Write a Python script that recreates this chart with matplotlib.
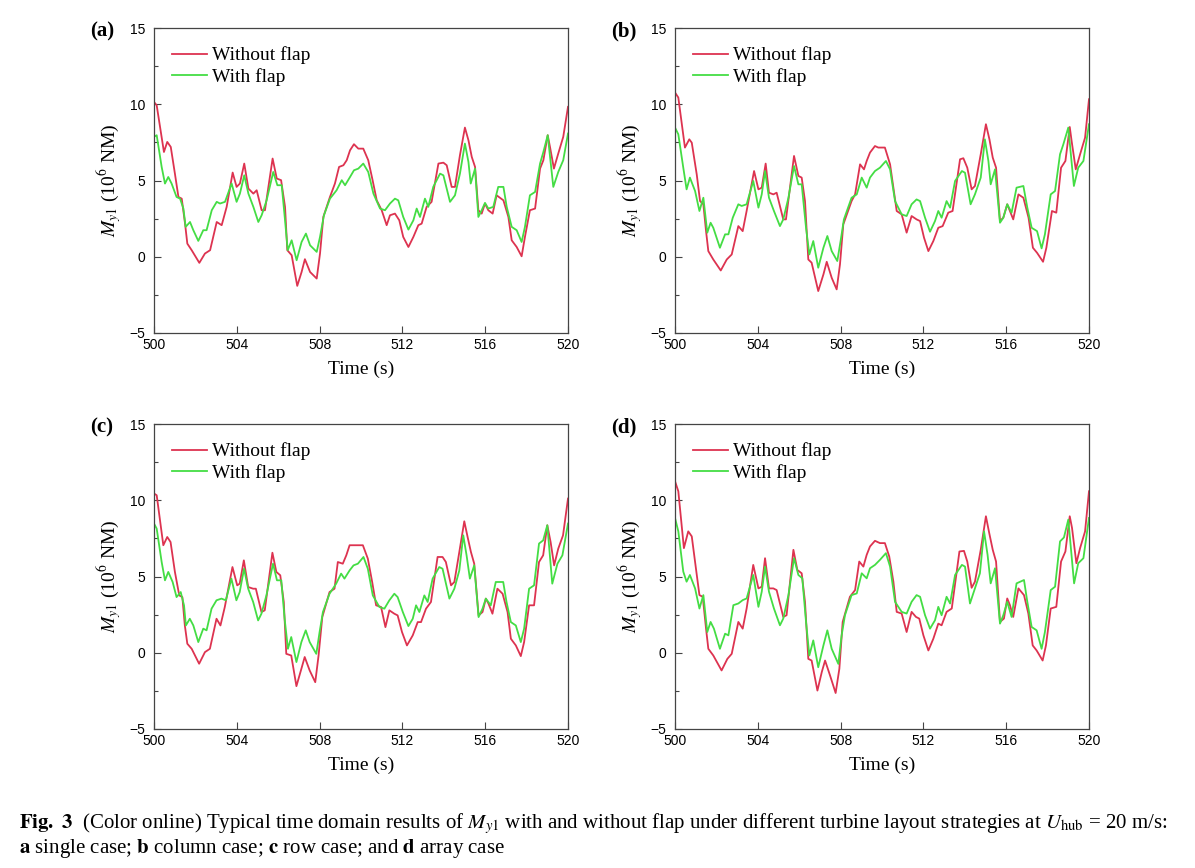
import matplotlib
matplotlib.use("Agg")
import matplotlib.pyplot as plt
from matplotlib.ticker import MultipleLocator

# ---- data (time in s, M_y1 in 10^6 NM) ----
t_a_wo = [500.00, 500.13, 500.48, 500.64, 500.81, 501.01, 501.18, 501.34, 501.50, 501.61, 501.82, 502.19, 502.46, 502.71, 503.03, 503.27, 503.51, 503.80, 503.99, 504.15, 504.36, 504.56, 504.80, 504.96, 505.20, 505.36, 505.73, 505.93, 506.14, 506.33, 506.44, 506.65, 506.92, 507.13, 507.29, 507.54, 507.86, 508.02, 508.18, 508.50, 508.74, 508.94, 509.15, 509.31, 509.47, 509.66, 509.87, 510.11, 510.35, 510.56, 510.76, 511.00, 511.24, 511.40, 511.64, 511.85, 512.04, 512.29, 512.53, 512.77, 512.93, 513.17, 513.41, 513.74, 513.98, 514.14, 514.38, 514.54, 514.78, 515.02, 515.19, 515.35, 515.51, 515.67, 515.83, 515.99, 516.15, 516.36, 516.55, 516.88, 517.12, 517.28, 517.52, 517.76, 517.92, 518.16, 518.41, 518.65, 518.81, 519.02, 519.13, 519.32, 519.53, 519.77, 520.00]
m_a_wo = [10.15, 9.93, 6.87, 7.53, 7.20, 5.45, 3.92, 3.81, 2.17, 0.86, 0.43, -0.40, 0.21, 0.43, 2.28, 2.07, 3.27, 5.52, 4.58, 4.80, 6.11, 4.47, 4.14, 4.36, 3.05, 3.05, 6.44, 5.13, 5.02, 3.27, 0.43, 0.10, -1.91, -1.00, -0.16, -1.00, -1.43, 0.21, 2.61, 3.92, 4.80, 5.89, 6.00, 6.33, 6.98, 7.38, 7.09, 7.09, 6.33, 5.02, 3.70, 3.05, 2.07, 2.72, 2.83, 2.39, 1.30, 0.64, 1.30, 2.07, 2.17, 3.27, 3.60, 6.11, 6.17, 6.00, 4.58, 4.58, 6.66, 8.47, 7.64, 6.55, 5.89, 3.05, 2.83, 3.49, 3.05, 2.83, 4.03, 3.70, 2.61, 1.08, 0.64, 0.03, 1.30, 3.05, 3.16, 5.78, 6.33, 7.97, 7.20, 5.78, 6.77, 7.86, 9.83]
t_a_w = [500.00, 500.13, 500.37, 500.53, 500.69, 500.85, 501.09, 501.26, 501.42, 501.53, 501.74, 501.90, 502.14, 502.38, 502.54, 502.79, 503.03, 503.19, 503.43, 503.75, 503.99, 504.15, 504.36, 504.56, 504.80, 505.04, 505.20, 505.44, 505.76, 505.96, 506.17, 506.33, 506.46, 506.65, 506.89, 507.13, 507.34, 507.54, 507.86, 508.02, 508.21, 508.50, 508.82, 509.07, 509.23, 509.47, 509.66, 509.87, 510.11, 510.35, 510.60, 510.92, 511.16, 511.40, 511.64, 511.80, 512.04, 512.29, 512.53, 512.69, 512.85, 513.09, 513.25, 513.49, 513.82, 513.98, 514.30, 514.54, 514.78, 515.02, 515.19, 515.30, 515.51, 515.67, 515.83, 515.99, 516.15, 516.39, 516.63, 516.88, 517.04, 517.28, 517.52, 517.76, 517.92, 518.16, 518.41, 518.65, 518.81, 519.02, 519.29, 519.53, 519.77, 520.00]
m_a_w = [7.86, 7.97, 5.89, 4.80, 5.23, 4.80, 3.92, 3.81, 3.16, 1.96, 2.28, 1.74, 1.04, 1.74, 1.74, 3.05, 3.60, 3.49, 3.60, 4.80, 3.60, 4.14, 5.34, 4.14, 3.27, 2.28, 2.72, 3.70, 5.56, 4.69, 4.69, 2.39, 0.43, 1.08, -0.23, 0.97, 1.52, 0.75, 0.32, 1.30, 2.72, 3.81, 4.36, 5.02, 4.69, 5.23, 5.67, 5.78, 6.11, 5.56, 4.14, 3.16, 3.05, 3.49, 3.81, 3.70, 2.61, 1.78, 2.39, 3.16, 2.61, 3.81, 3.27, 4.58, 5.45, 5.34, 3.60, 4.03, 5.45, 7.42, 6.22, 4.80, 5.78, 2.61, 3.05, 3.53, 3.16, 3.27, 4.58, 4.58, 3.27, 1.96, 1.74, 0.97, 1.96, 4.03, 4.25, 6.11, 6.87, 7.97, 4.58, 5.56, 6.33, 8.08]

t_b_wo = [500.00, 500.16, 500.48, 500.69, 500.81, 501.05, 501.21, 501.37, 501.50, 501.61, 501.85, 502.21, 502.50, 502.74, 503.06, 503.27, 503.46, 503.82, 504.03, 504.19, 504.38, 504.54, 504.75, 504.91, 505.23, 505.36, 505.75, 505.96, 506.12, 506.28, 506.44, 506.60, 506.92, 507.17, 507.33, 507.57, 507.81, 507.97, 508.13, 508.53, 508.70, 508.94, 509.13, 509.26, 509.42, 509.66, 509.82, 510.14, 510.39, 510.55, 510.71, 510.95, 511.19, 511.43, 511.67, 511.84, 512.03, 512.24, 512.48, 512.72, 512.93, 513.20, 513.41, 513.77, 513.93, 514.12, 514.33, 514.49, 514.77, 515.02, 515.19, 515.35, 515.51, 515.70, 515.86, 516.05, 516.18, 516.34, 516.59, 516.83, 517.08, 517.29, 517.49, 517.78, 517.94, 518.21, 518.42, 518.65, 518.86, 519.07, 519.16, 519.36, 519.57, 519.81, 520.00]
m_b_wo = [10.77, 10.44, 7.16, 7.70, 7.48, 5.40, 3.65, 3.44, 1.68, 0.37, -0.18, -0.90, -0.18, 0.15, 2.01, 1.68, 3.00, 5.62, 4.42, 4.53, 6.11, 4.20, 4.09, 4.20, 2.45, 2.45, 6.61, 5.30, 5.19, 3.65, -0.18, -0.39, -2.25, -1.16, -0.33, -1.38, -2.14, -0.50, 2.12, 3.65, 4.09, 6.06, 5.73, 6.28, 6.83, 7.26, 7.16, 7.16, 6.06, 4.53, 3.00, 2.78, 1.58, 2.67, 2.45, 2.34, 1.25, 0.37, 1.03, 1.90, 2.01, 2.89, 3.00, 6.39, 6.46, 5.84, 4.42, 4.64, 6.72, 8.69, 7.70, 6.50, 5.84, 2.34, 2.56, 3.44, 3.00, 2.45, 4.09, 3.87, 2.56, 0.59, 0.26, -0.33, 0.59, 3.00, 2.89, 5.84, 6.28, 8.51, 7.59, 5.73, 6.72, 7.81, 10.33]
t_b_w = [500.00, 500.16, 500.40, 500.56, 500.72, 500.97, 501.18, 501.37, 501.56, 501.72, 501.85, 502.17, 502.42, 502.58, 502.79, 503.06, 503.22, 503.46, 503.78, 504.03, 504.19, 504.35, 504.54, 504.78, 505.07, 505.23, 505.48, 505.75, 505.96, 506.12, 506.33, 506.49, 506.68, 506.92, 507.17, 507.36, 507.57, 507.84, 508.00, 508.16, 508.53, 508.78, 509.02, 509.26, 509.42, 509.66, 509.90, 510.19, 510.39, 510.63, 510.95, 511.19, 511.43, 511.67, 511.84, 512.08, 512.32, 512.56, 512.72, 512.88, 513.12, 513.29, 513.53, 513.86, 514.01, 514.28, 514.49, 514.77, 514.97, 515.14, 515.25, 515.46, 515.70, 515.86, 516.05, 516.26, 516.50, 516.83, 517.02, 517.23, 517.49, 517.71, 517.87, 518.15, 518.36, 518.60, 518.76, 519.00, 519.27, 519.48, 519.73, 520.00]
m_b_w = [8.47, 8.03, 5.84, 4.42, 5.19, 4.31, 3.00, 3.87, 1.58, 2.23, 1.90, 0.59, 1.47, 1.47, 2.56, 3.44, 3.33, 3.44, 4.97, 3.22, 4.09, 5.62, 3.87, 3.00, 2.01, 2.45, 3.87, 5.95, 4.75, 4.75, 1.90, 0.15, 1.03, -0.72, 0.59, 1.36, 0.37, -0.28, 1.03, 2.45, 3.87, 4.09, 5.19, 4.53, 5.19, 5.62, 5.84, 6.28, 5.73, 3.65, 2.78, 2.67, 3.44, 3.76, 3.65, 2.56, 1.64, 2.34, 3.00, 2.56, 3.65, 3.22, 4.97, 5.62, 5.51, 3.44, 4.09, 5.19, 7.70, 6.28, 4.75, 5.73, 2.23, 2.56, 3.44, 2.89, 4.53, 4.64, 3.22, 1.90, 1.68, 0.55, 1.47, 4.09, 4.31, 6.72, 7.37, 8.47, 4.64, 5.84, 6.28, 8.69]

t_c_wo = [500.00, 500.13, 500.45, 500.64, 500.80, 501.01, 501.22, 501.37, 501.49, 501.61, 501.82, 502.18, 502.46, 502.70, 503.02, 503.21, 503.42, 503.79, 504.02, 504.14, 504.34, 504.55, 504.79, 504.92, 505.19, 505.35, 505.72, 505.91, 506.10, 506.27, 506.39, 506.63, 506.88, 507.12, 507.28, 507.52, 507.79, 507.95, 508.13, 508.48, 508.72, 508.88, 509.12, 509.29, 509.45, 509.64, 510.09, 510.33, 510.54, 510.73, 510.97, 511.18, 511.37, 511.61, 511.77, 511.98, 512.22, 512.50, 512.74, 512.90, 513.14, 513.38, 513.70, 513.94, 514.10, 514.35, 514.51, 514.75, 514.99, 515.15, 515.31, 515.47, 515.68, 515.87, 516.03, 516.16, 516.35, 516.59, 516.84, 517.08, 517.24, 517.48, 517.72, 517.88, 518.12, 518.36, 518.60, 518.80, 519.00, 519.16, 519.33, 519.53, 519.76, 520.00]
m_c_wo = [10.44, 10.33, 7.05, 7.59, 7.26, 5.30, 3.76, 3.65, 1.79, 0.59, 0.26, -0.72, 0.04, 0.26, 2.23, 1.79, 3.00, 5.62, 4.42, 4.53, 6.06, 4.31, 4.20, 4.20, 2.67, 2.78, 6.56, 5.30, 5.08, 3.33, -0.07, -0.18, -2.19, -1.05, -0.28, -1.16, -1.93, -0.18, 2.34, 3.98, 4.20, 5.95, 5.84, 6.39, 7.05, 7.05, 7.05, 6.17, 4.64, 3.11, 3.00, 1.68, 2.78, 2.56, 2.45, 1.36, 0.48, 1.14, 2.01, 2.01, 2.89, 3.33, 6.28, 6.28, 5.95, 4.42, 4.64, 6.61, 8.62, 7.59, 6.61, 5.84, 2.45, 2.67, 3.55, 3.22, 2.56, 4.20, 3.87, 2.67, 0.92, 0.48, -0.22, 0.70, 3.11, 3.11, 5.95, 6.39, 8.36, 7.26, 5.73, 6.83, 7.70, 10.11]
t_c_w = [500.00, 500.13, 500.37, 500.53, 500.69, 500.90, 501.09, 501.29, 501.45, 501.54, 501.73, 501.90, 502.14, 502.38, 502.54, 502.78, 503.02, 503.26, 503.47, 503.74, 503.98, 504.14, 504.35, 504.55, 504.79, 505.03, 505.19, 505.43, 505.75, 505.94, 506.15, 506.31, 506.47, 506.63, 506.88, 507.12, 507.33, 507.52, 507.84, 508.00, 508.16, 508.48, 508.80, 509.04, 509.20, 509.45, 509.64, 509.85, 510.12, 510.33, 510.57, 510.89, 511.13, 511.37, 511.61, 511.77, 512.02, 512.29, 512.50, 512.66, 512.82, 513.06, 513.22, 513.46, 513.78, 513.94, 514.27, 514.51, 514.75, 514.94, 515.10, 515.26, 515.47, 515.68, 515.87, 516.03, 516.27, 516.51, 516.87, 517.03, 517.24, 517.48, 517.72, 517.88, 518.12, 518.36, 518.60, 518.80, 519.00, 519.24, 519.49, 519.73, 520.00]
m_c_w = [8.47, 8.14, 5.95, 4.75, 5.30, 4.64, 3.65, 3.98, 3.11, 1.79, 2.23, 1.79, 0.70, 1.58, 1.47, 2.89, 3.44, 3.55, 3.44, 4.86, 3.44, 3.98, 5.51, 4.20, 3.33, 2.12, 2.56, 3.76, 5.84, 4.75, 4.75, 2.23, 0.26, 1.03, -0.61, 0.70, 1.47, 0.70, -0.07, 1.36, 2.67, 3.87, 4.53, 5.19, 4.86, 5.40, 5.73, 5.84, 6.28, 5.51, 3.76, 3.00, 2.89, 3.44, 3.87, 3.65, 2.67, 1.75, 2.23, 3.11, 2.67, 3.76, 3.33, 4.86, 5.62, 5.51, 3.55, 4.20, 5.40, 7.70, 6.39, 4.86, 5.73, 2.34, 2.89, 3.55, 3.11, 4.64, 4.64, 3.33, 2.01, 1.79, 0.70, 1.58, 4.20, 4.42, 7.16, 7.37, 8.36, 4.53, 5.84, 6.39, 8.47]

t_d_wo = [500.00, 500.16, 500.43, 500.64, 500.81, 501.01, 501.18, 501.34, 501.50, 501.61, 501.85, 502.25, 502.53, 502.74, 503.06, 503.27, 503.46, 503.78, 504.03, 504.19, 504.35, 504.54, 504.75, 504.91, 505.23, 505.39, 505.72, 505.91, 506.12, 506.28, 506.44, 506.60, 506.88, 507.09, 507.25, 507.49, 507.76, 507.94, 508.10, 508.45, 508.70, 508.90, 509.10, 509.26, 509.42, 509.66, 509.90, 510.14, 510.35, 510.55, 510.71, 510.95, 511.19, 511.43, 511.64, 511.80, 512.00, 512.24, 512.48, 512.72, 512.88, 513.12, 513.37, 513.74, 513.96, 514.12, 514.33, 514.49, 514.77, 515.02, 515.18, 515.35, 515.51, 515.70, 515.89, 516.05, 516.18, 516.34, 516.59, 516.86, 517.07, 517.28, 517.47, 517.76, 517.92, 518.15, 518.42, 518.65, 518.86, 519.07, 519.18, 519.39, 519.57, 519.81, 520.00]
m_d_wo = [11.25, 10.59, 6.86, 7.96, 7.63, 5.54, 3.78, 3.67, 1.58, 0.26, -0.18, -1.16, -0.40, -0.07, 2.02, 1.58, 2.90, 5.76, 4.22, 4.33, 6.20, 4.22, 4.22, 4.11, 2.35, 2.46, 6.75, 5.43, 5.21, 3.34, -0.40, -0.51, -2.48, -1.27, -0.51, -1.49, -2.64, -1.05, 2.02, 3.67, 4.11, 5.98, 5.65, 6.42, 6.97, 7.34, 7.19, 7.19, 6.31, 4.66, 2.68, 2.57, 1.36, 2.68, 2.35, 2.24, 1.14, 0.15, 0.92, 1.91, 1.80, 2.68, 2.90, 6.64, 6.68, 5.98, 4.26, 4.66, 6.75, 8.95, 7.85, 6.75, 5.98, 2.02, 2.24, 3.56, 3.12, 2.35, 4.22, 3.78, 2.57, 0.48, 0.15, -0.51, 0.48, 2.90, 3.01, 5.98, 6.64, 8.95, 8.18, 5.87, 6.86, 7.96, 10.59]
t_d_w = [500.00, 500.16, 500.40, 500.56, 500.72, 500.97, 501.18, 501.37, 501.56, 501.72, 501.88, 502.17, 502.42, 502.58, 502.82, 503.06, 503.27, 503.46, 503.78, 504.03, 504.19, 504.35, 504.54, 504.78, 505.07, 505.23, 505.48, 505.75, 505.96, 506.15, 506.33, 506.49, 506.68, 506.92, 507.17, 507.36, 507.57, 507.89, 508.05, 508.21, 508.53, 508.78, 509.02, 509.26, 509.42, 509.66, 509.90, 510.19, 510.39, 510.63, 510.95, 511.19, 511.43, 511.67, 511.84, 512.08, 512.32, 512.56, 512.72, 512.88, 513.12, 513.29, 513.53, 513.86, 514.01, 514.25, 514.49, 514.73, 514.93, 515.10, 515.25, 515.46, 515.70, 515.86, 516.05, 516.26, 516.50, 516.86, 517.02, 517.23, 517.47, 517.71, 517.87, 518.15, 518.36, 518.60, 518.79, 519.00, 519.28, 519.48, 519.73, 520.00]
m_d_w = [8.84, 7.96, 5.32, 4.66, 5.10, 4.22, 2.90, 3.78, 1.36, 2.02, 1.58, 0.26, 1.25, 1.14, 3.12, 3.23, 3.45, 3.56, 5.10, 3.01, 4.00, 5.65, 4.00, 2.90, 1.80, 2.24, 3.78, 6.20, 5.10, 4.88, 2.02, -0.18, 0.81, -0.95, 0.48, 1.47, 0.26, -0.73, 1.14, 2.46, 3.78, 3.89, 5.21, 4.88, 5.54, 5.76, 6.09, 6.53, 5.65, 3.34, 2.68, 2.57, 3.34, 3.78, 3.67, 2.46, 1.58, 2.13, 3.01, 2.46, 3.67, 3.23, 5.10, 5.76, 5.65, 3.23, 4.22, 5.21, 7.96, 6.42, 4.55, 5.54, 1.91, 2.46, 3.34, 2.35, 4.55, 4.77, 3.34, 1.69, 1.47, 0.26, 1.36, 4.11, 4.33, 7.30, 7.56, 8.73, 4.55, 5.87, 6.20, 8.84]

panel_tags = ["(a)", "(b)", "(c)", "(d)"]
x_ticks = [500, 504, 508, 512, 516, 520]
y_ticks = [-5, 0, 5, 10, 15]

RED = "#dd3350"
GREEN = "#44dd44"

plt.rcParams["mathtext.fontset"] = "stix"
SERIF = "Liberation Serif"
SANS = "Liberation Sans"

fig = plt.figure(figsize=(11.95, 8.68), dpi=100)
W, H = 1195.0, 868.0
# axes boxes in pixels: left, top
boxes = [(154, 28), (675, 28), (154, 424), (675, 424)]
aw, ah = 414, 305

series = [
    (t_a_wo, m_a_wo, t_a_w, m_a_w),
    (t_b_wo, m_b_wo, t_b_w, m_b_w),
    (t_c_wo, m_c_wo, t_c_w, m_c_w),
    (t_d_wo, m_d_wo, t_d_w, m_d_w),
]

for (left, top), tag, (t1, m1, t2, m2) in zip(boxes, panel_tags, series):
    ax = fig.add_axes([left / W, 1 - (top + ah) / H, aw / W, ah / H])
    ax.plot(t1, m1, color=RED, lw=1.3, label="Without flap")
    ax.plot(t2, m2, color=GREEN, lw=1.3, label="With flap")
    ax.set_xlim(500, 520)
    ax.set_ylim(-5, 15)
    ax.set_xticks(x_ticks)
    ax.set_yticks(y_ticks)
    ax.yaxis.set_minor_locator(MultipleLocator(2.5))
    ax.tick_params(direction="in", length=5, width=0.8, color="#444444",
                   labelsize=10, top=False, right=False)
    ax.tick_params(axis="y", which="minor", direction="in", length=3, width=0.8, color="#444444")
    ax.tick_params(axis="y", pad=6)
    for lab in ax.get_xticklabels() + ax.get_yticklabels():
        lab.set_fontfamily(SANS)
    for sp in ax.spines.values():
        sp.set_color("#444444")
        sp.set_linewidth(0.9)
    ax.set_xlabel("Time (s)", fontsize=14, family=SERIF, labelpad=6)
    ax.set_ylabel(r"$M_{y1}$ (10$^{6}$ NM)", fontsize=14, family=SERIF, labelpad=4)
    ax.legend(loc="upper left", frameon=False,
              prop={"family": SERIF, "size": 14},
              handlelength=1.75, handletextpad=0.3, labelspacing=0.2,
              borderaxespad=0.55, bbox_to_anchor=(0.0, 1.0))
    fig.text((left - 64) / W, 1 - (top + 3) / H, tag, fontsize=15, family=SERIF,
             fontweight="bold", ha="left", va="center")

fig.text(19 / W, 1 - 824 / H,
         r"$\mathbf{Fig.\ 3}$  (Color online) Typical time domain results of $M_{y1}$ with and "
         r"without flap under different turbine layout strategies at $U_{\mathrm{hub}}$ = 20 m/s:",
         fontsize=15, family=SERIF, ha="left", va="center")
fig.text(19 / W, 1 - 849 / H,
         r"$\mathbf{a}$ single case; $\mathbf{b}$ column case; $\mathbf{c}$ row case; "
         r"and $\mathbf{d}$ array case",
         fontsize=15, family=SERIF, ha="left", va="center")

plt.savefig("out.png", dpi=100)
plt.close()
